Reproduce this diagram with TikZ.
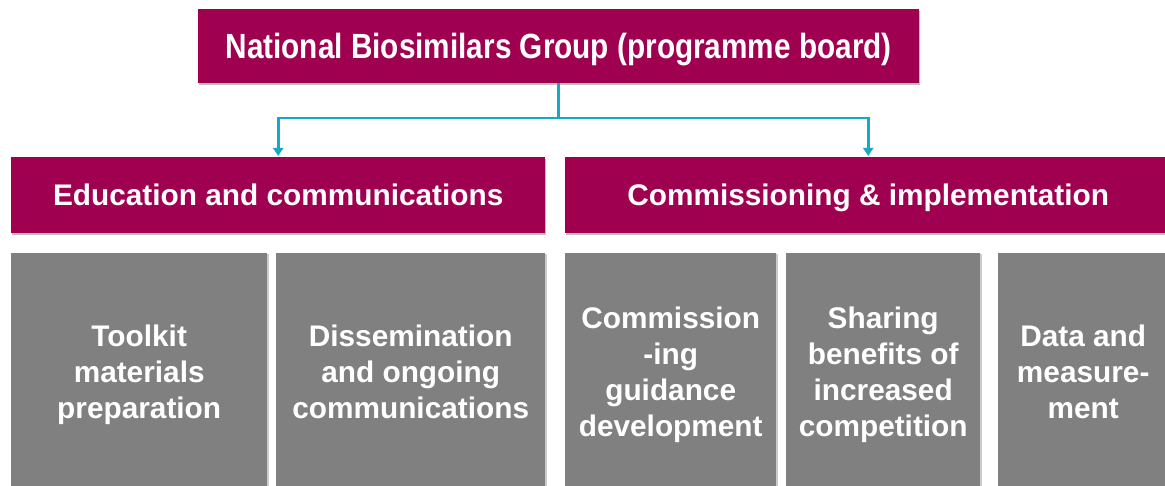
\documentclass[tikz,border=0pt]{standalone}
\usepackage{graphicx}
\usepackage{fontspec}
\setmainfont{Liberation Sans}
\usetikzlibrary{positioning,arrows.meta,shadows}

\definecolor{plum}{RGB}{160,0,80}
\definecolor{slate}{RGB}{128,128,128}
\definecolor{linkblue}{RGB}{24,168,196}

\begin{document}
\begin{tikzpicture}[x=1pt, y=-1pt, text=white, font=\fontsize{29.8}{36}\selectfont\bfseries,
  head/.style={rectangle, fill=plum, anchor=north west, inner sep=0pt, minimum height=76pt, text depth=0pt,
    drop shadow={shadow xshift=1pt, shadow yshift=-2pt, fill=black, opacity=0.25}},
  task/.style={rectangle, fill=slate, anchor=north west, inner sep=0pt, minimum height=248.5pt, align=center,
    drop shadow={shadow xshift=1.5pt, shadow yshift=-1pt, fill=black, opacity=0.2}},
  link/.style={draw=linkblue, line width=2.8pt, -{Triangle[width=10pt,length=8pt]}, shorten >=1pt}]

  \useasboundingbox (0,0) rectangle (1165,486);
  \clip (0,0) rectangle (1165,486);

  % Define nodes
  \node[head, minimum width=721pt, minimum height=74pt] (board) at (198,9)
    {\raisebox{1pt}{\scalebox{0.85}[1]{\fontsize{35}{40}\selectfont National Biosimilars Group (programme board)}}};
  \node[head, minimum width=534pt] (edu) at (11,157) {Education and communications};
  \node[head, minimum width=606pt] (comm) at (565,157) {Commissioning \& implementation};

  % last lines carry a strut so every box sits its text alike
  \node[task, minimum width=256pt] (toolkit) at (11,253) {Toolkit\\materials\\preparation\strut};
  \node[task, minimum width=269pt] (dissem) at (276,253) {Dissemination\\and ongoing\\communications\strut};
  \node[task, minimum width=211pt] (guidance) at (565,253) {Commission\\-ing\\guidance\\development\strut};
  \node[task, minimum width=194pt] (sharing) at (786,253) {Sharing\\benefits of\\increased\\competition\strut};
  \node[task, minimum width=170pt] (data) at (998,253) {Data and\\measure-\\ment\strut};

  \coordinate (split) at (board.south |- 0,118);

  % Define edges
  \draw[link] (board.south) -- (split) -| (edu.north);
  \draw[link] (split) -| (comm.north);
\end{tikzpicture}
\end{document}
